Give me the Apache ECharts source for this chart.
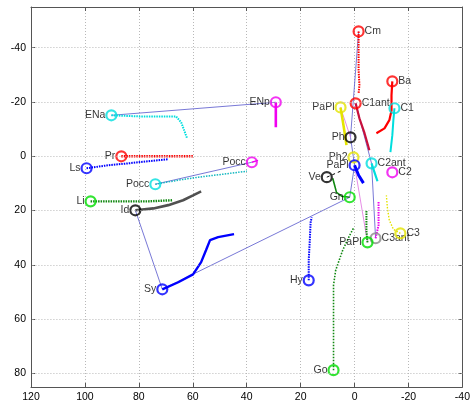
<!DOCTYPE html>
<html><head><meta charset="utf-8">
<script src="https://cdn.jsdelivr.net/npm/echarts@6/dist/echarts.min.js"></script>
<style>html,body{margin:0;padding:0;background:#fff}#c{width:473px;height:403px}</style>
</head><body><div id="c"></div>
<script>
// ---- tick labels ----
const xTicks = [120, 100, 80, 60, 40, 20, 0, -20, -40];
const yTicks = [-40, -20, 0, 20, 40, 60, 80];

// ---- trajectories (first point = landmark position) ----
const trailCm    = [[-1.5,-46.0],[-1.5,-39.0],[-1.5,-31.7],[-1.8,-26.2],[-1.5,-23.2]];
const trailBa    = [[-14.0,-27.6],[-13.7,-22.5],[-13.7,-16.9],[-12.9,-13.3],[-11.1,-10.3],[-8.1,-8.5]];
const trailC1ant = [[-0.4,-19.5],[-1.8,-14.0],[-3.7,-8.5],[-5.5,-2.2]];
const trailC1    = [[-14.8,-17.7],[-14.4,-13.3],[-14.0,-7.7],[-13.3,-1.5]];
const trailPaPlY = [[5.2,-18.0],[4.1,-11.4],[3.0,-4.1]];
const trailPh    = [[1.5,-7.0]];
const trailPh2   = [[0.4,0.4]];
const trailPaPlB = [[0,3.3],[-1.5,7.0],[-3.3,9.9]];
const trailC2ant = [[-6.3,2.6],[-7.4,5.9],[-8.5,9.2]];
const trailC2    = [[-14.0,5.9]];
const trailVe    = [[10.3,7.7],[5.2,5.5]];
const trailGn    = [[1.8,15.1],[4.8,14.7],[6.7,13.3],[7.4,10.7],[8.1,8.1]];
const trailC3    = [[-17.0,28.4],[-14.4,26.9],[-12.9,23.6],[-12.2,19.2],[-11.8,14.4]];
const trailC3ant = [[-7.8,30.2],[-8.9,25.4],[-8.9,20.6],[-8.9,16.6]];
const trailPaPlG = [[-4.8,31.7],[-4.4,27.3],[-4.4,23.6],[-4.4,19.9]];
const trailHy    = [[17.0,45.7],[17.0,38.3],[16.6,30.9],[16.3,24.3],[15.9,22.5]];
const trailGo    = [[7.8,78.8],[7.8,67.8],[7.8,56.7],[7.8,47.5],[7.0,42.0],[4.4,34.6],[1.8,29.1],[0.4,26.5]];
const trailSy    = [[71.3,49.0],[65.4,46.4],[59.9,43.5],[56.9,39.0],[55.1,34.6],[53.6,30.9],[50.6,29.8],[44.7,28.7]];
const trailId    = [[81.3,19.9],[74.6,19.2],[69.1,18.0],[63.6,16.2],[59.9,14.4],[56.9,12.9]];
const trailLi    = [[97.9,16.6],[87.6,16.6],[76.5,16.6],[67.6,16.2]];
const trailLs    = [[99.4,4.4],[91.3,3.3],[83.9,2.6],[76.5,1.8],[69.1,1.1]];
const trailPr    = [[86.5,0],[76.5,0],[67.3,0],[59.9,0]];
const trailPoccC = [[73.9,10.3],[65.4,8.8],[58.0,7.7],[48.8,6.6],[39.9,5.5]];
const trailPoccM = [[38.1,2.2],[35.8,1.5]];
const trailENa   = [[90.2,-15.1],[80.2,-14.7],[72.8,-14.7],[66.2,-14.7],[64.3,-12.5],[63.2,-9.6],[62.1,-6.6]];
const trailENp   = [[29.2,-19.9],[29.2,-16.2],[29.2,-13.3],[29.2,-10.7]];

const landmarkNames = ['Cm','Ba','C1ant','C1','PaPl','Ph','Ph2','PaPl','C2ant','C2','Ve','Gn','C3','C3ant','PaPl','Hy','Go','Sy','Id','Li','Ls','Pr','Pocc','Pocc','ENa','ENp'];
const landmarkTrails = [trailCm,trailBa,trailC1ant,trailC1,trailPaPlY,trailPh,trailPh2,trailPaPlB,trailC2ant,trailC2,trailVe,trailGn,trailC3,trailC3ant,trailPaPlG,trailHy,trailGo,trailSy,trailId,trailLi,trailLs,trailPr,trailPoccC,trailPoccM,trailENa,trailENp];

// connections between landmarks (indices into landmarkNames)
const blueLinks = [[24,25],[18,17],[17,11],[22,23],[0,5],[5,7],[7,11],[2,8],[8,13]];
const pinkLinks = [[4,5],[7,14]];

// ---- styles ----
const labelSide = ['r','r','r','r','l','l','l','l','r','r','l','l','r','r','l','l','l','l','l','l','l','l','l','l','l','l'];
const RED='#ff0000', CY='#00dede', YE='#e4e400', BL='#0000ff', MA='#f000f0', BK='#000000', GR='#00dd00', DG='#118811', GY='#8a8a8a';
const markerColors = [RED,RED,RED,CY,YE,BK,YE,BL,CY,MA,BK,GR,YE,GY,GR,BL,GR,BL,BK,GR,BL,RED,CY,MA,CY,MA];
const trailStyles = [
  [RED,2,[1.5,1]],[RED,2.2,'solid'],['#c8103c',2.2,'solid'],[CY,2,'solid'],[YE,2.6,'solid'],[BK,1,'solid'],[YE,1,'solid'],
  [BL,3,'solid'],[CY,2.2,'solid'],[MA,1,'solid'],[BK,1,[3,3]],[DG,1.6,'solid'],[YE,1.4,[1.5,1.5]],[MA,2,[1.5,1]],
  [DG,2,[1.5,1]],[BL,2,[1.5,1]],[DG,1.6,[1.5,1.5]],[BL,2.4,'solid'],['#505050',2.6,'solid'],[DG,2.4,[1.5,1]],
  [BL,2,[1.5,1]],[RED,2.4,[1.5,1]],['#13b8c0',1.5,[1.5,1.2]],[MA,1.4,'solid'],[CY,2,[1.5,1]],[MA,2.6,'solid']
];

const FONT = 'Liberation Sans, Arial, Helvetica, sans-serif';
const series = [];

// horizontal grid lines
series.push({
  type: 'line', data: [], silent: true, z: 0,
  markLine: { silent: true, symbol: ['none','none'], label: {show:false},
    lineStyle: {color:'#b8b8b8', type:[1,2], width:1},
    data: yTicks.map(v => ({yAxis: v})) }
});

// thin connection lines
function addLinks(links, color) {
  links.forEach(([a,b]) => {
    series.push({ type:'line', silent:true, z:1, symbol:'none',
      data:[landmarkTrails[a][0], landmarkTrails[b][0]],
      lineStyle:{color:color, width:0.8}, animation:false });
  });
}
addLinks(blueLinks, '#5555cc');
addLinks(pinkLinks, '#e070e0');

// trajectories
landmarkTrails.forEach((t, i) => {
  if (t.length < 2) return;
  const s = trailStyles[i];
  series.push({ type:'line', silent:true, z:2, symbol:'none', data:t,
    lineStyle:{color:s[0], width:s[1], type:s[2]}, animation:false });
});

// labels
series.push({
  type:'scatter', z:3, symbolSize:1, silent:true, animation:false,
  itemStyle:{color:'transparent'},
  data: landmarkTrails.map((t,i) => ({
    value: t[0],
    label: { show:true, formatter: landmarkNames[i], color:'#000', fontSize:10.5, fontFamily:FONT,
      position: labelSide[i]==='r' ? 'right' : 'left',
      distance: labelSide[i]==='r' ? 5.5 : 5.5 }
  }))
});

// circle markers
series.push({
  type:'scatter', z:4, symbol:'circle', symbolSize:10, silent:true, animation:false,
  data: landmarkTrails.map((t,i) => ({
    value: t[0],
    itemStyle:{color:'rgba(0,0,0,0)', borderColor:markerColors[i], borderWidth:2.2}
  }))
});

const axisLineStyle = {color:'#555', width:1};
const option = {
  animation: false,
  backgroundColor: '#fff',
  grid: {left:31, right:9, top:7, bottom:16, containLabel:false},
  xAxis: [
    { type:'value', min:-40, max:120, interval:20, inverse:true, position:'bottom',
      axisLine:{show:true, onZero:false, lineStyle:axisLineStyle},
      axisTick:{show:true, inside:true, length:4, lineStyle:axisLineStyle},
      axisLabel:{color:'#000', fontSize:10.5, fontFamily:FONT, margin:5,
        formatter: v => xTicks.includes(v) ? String(v) : ''},
      splitLine:{show:true, lineStyle:{color:'#b8b8b8', type:[1,2], width:1}} },
    { type:'value', min:-40, max:120, interval:20, inverse:true, position:'top',
      axisLine:{show:true, onZero:false, lineStyle:axisLineStyle},
      axisTick:{show:true, inside:true, length:4, lineStyle:axisLineStyle},
      axisLabel:{show:false}, splitLine:{show:false} }
  ],
  yAxis: [
    { type:'value', min:-55, max:85, interval:5, inverse:true, position:'left',
      axisLine:{show:true, onZero:false, lineStyle:axisLineStyle},
      axisTick:{show:true, inside:true, length:4, customValues:yTicks, lineStyle:axisLineStyle},
      axisLabel:{color:'#000', fontSize:10.5, fontFamily:FONT, margin:5, customValues:yTicks,
        formatter: v => yTicks.includes(v) ? String(v) : ''},
      splitLine:{show:false} },
    { type:'value', min:-55, max:85, interval:5, inverse:true, position:'right',
      axisLine:{show:true, onZero:false, lineStyle:axisLineStyle},
      axisTick:{show:true, inside:true, length:4, customValues:yTicks, lineStyle:axisLineStyle},
      axisLabel:{show:false}, splitLine:{show:false} }
  ],
  series: series
};
const chart = echarts.init(document.getElementById('c'), null, {renderer:'canvas'});
chart.setOption(option);
</script>
</body></html>
